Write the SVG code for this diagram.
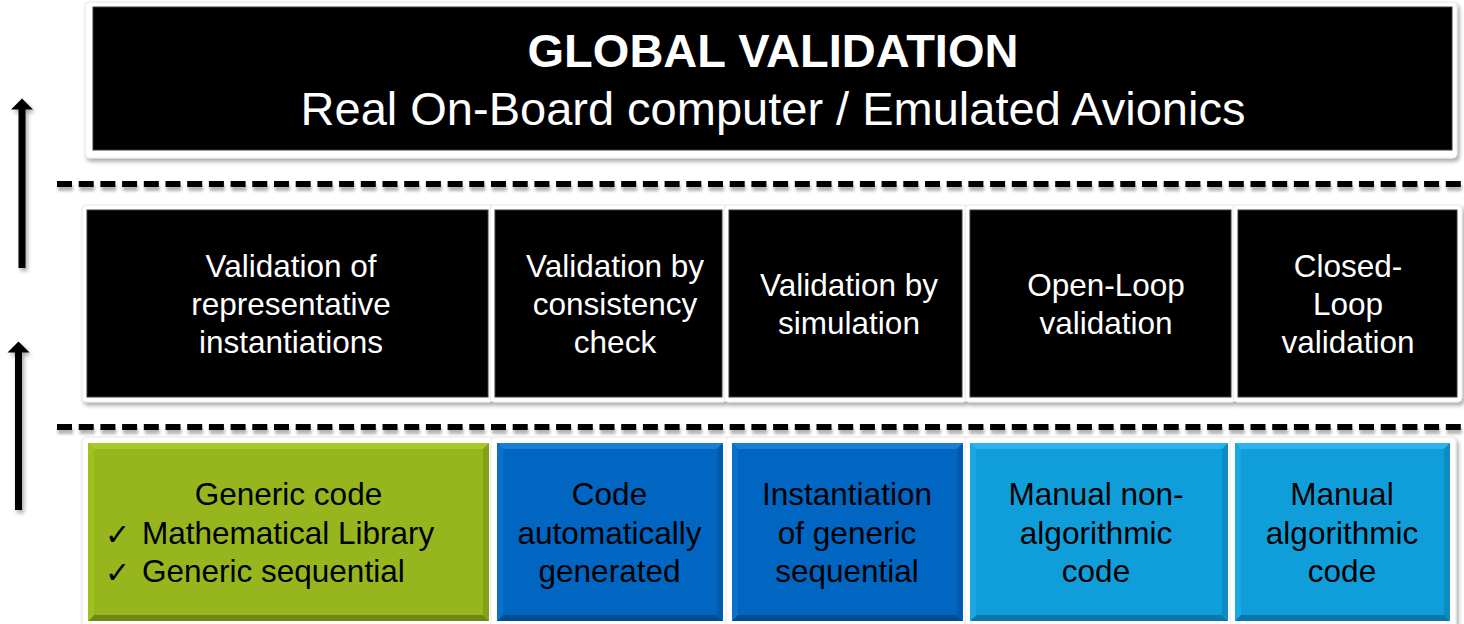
<svg xmlns="http://www.w3.org/2000/svg" width="1464" height="624" viewBox="0 0 1464 624">
<defs>
<filter id="sh" x="-5%" y="-10%" width="115%" height="130%">
<feGaussianBlur in="SourceAlpha" stdDeviation="2"/>
<feOffset dx="2" dy="3" result="b"/>
<feComponentTransfer><feFuncA type="linear" slope="0.35"/></feComponentTransfer>
<feMerge><feMergeNode/><feMergeNode in="SourceGraphic"/></feMerge>
</filter>
<filter id="shl" filterUnits="userSpaceOnUse" x="0" y="0" width="1464" height="624">
<feGaussianBlur in="SourceAlpha" stdDeviation="1.6"/>
<feOffset dx="1" dy="4" result="b"/>
<feComponentTransfer><feFuncA type="linear" slope="0.3"/></feComponentTransfer>
<feMerge><feMergeNode/><feMergeNode in="SourceGraphic"/></feMerge>
</filter>
</defs>
<style>
.frame{fill:#ffffff;stroke:#e6e6e6;stroke-width:1}
.blk{fill:#000000;stroke:#3a3a3a;stroke-width:1}
.tw{font-family:"Liberation Sans",Arial,sans-serif;fill:#ffffff;text-anchor:middle}
.tb{font-family:"Liberation Sans",Arial,sans-serif;fill:#000000;text-anchor:middle;font-size:31.5px}
.ck{font-family:"DejaVu Sans",sans-serif;fill:#000000;font-size:30px}
.m{font-size:31.5px}
.dash{stroke:#000000;stroke-width:6;stroke-dasharray:15 6.7;fill:none}
.g0{fill:#97B51D}.g1{fill:#A8CA27}.g2{fill:#6F8714}.g3{fill:#A0C022}.g4{fill:#84A018}
.d0{fill:#0066C1}.d1{fill:#1A7DD6}.d2{fill:#004C92}.d3{fill:#0B70CC}.d4{fill:#005AAE}
.l0{fill:#109EDA}.l1{fill:#2CB3EE}.l2{fill:#0A77A8}.l3{fill:#19A8E4}.l4{fill:#0D8CC3}
</style>
<rect width="1464" height="624" fill="#ffffff"/>

<g id="connectors">
<g filter="url(#shl)">
<line class="dash" x1="57" y1="184" x2="1464" y2="184"/>
<line class="dash" x1="57" y1="427" x2="1464" y2="427"/>
</g>
<g filter="url(#sh)">
<rect x="18.5" y="108" width="7" height="160" fill="#000"/>
<polygon points="11,109.5 22,98.5 33,109.5" fill="#000"/>
<rect x="15" y="351" width="7" height="159" fill="#000"/>
<polygon points="7.5,352.5 18.5,341.5 29.5,352.5" fill="#000"/>
</g>
</g>

<g id="global">
<rect class="frame" x="85" y="2" width="1372" height="156" rx="4" filter="url(#sh)"/>
<rect class="blk" x="93" y="7" width="1359" height="143"/>
<text class="tw" x="773" y="67" font-size="47" font-weight="bold">GLOBAL VALIDATION</text>
<text class="tw" x="773" y="125" font-size="47">Real On-Board computer / Emulated Avionics</text>
</g>

<g id="mid-frames" filter="url(#sh)">
<rect class="frame" x="82" y="205" width="411" height="197" rx="4"/>
<rect class="frame" x="490" y="205" width="237" height="197" rx="4"/>
<rect class="frame" x="724" y="205" width="243" height="197" rx="4"/>
<rect class="frame" x="965" y="205" width="271" height="197" rx="4"/>
<rect class="frame" x="1233" y="205" width="229" height="197" rx="4"/>
</g>

<g id="v1">
<rect class="blk" x="87" y="210" width="401" height="187"/>
<text class="tw m"><tspan x="291" y="277">Validation of</tspan><tspan x="291" y="315">representative</tspan><tspan x="291" y="353">instantiations</tspan></text>
</g>
<g id="v2">
<rect class="blk" x="495" y="210" width="227" height="187"/>
<text class="tw m"><tspan x="615" y="277">Validation by</tspan><tspan x="615" y="315">consistency</tspan><tspan x="615" y="353">check</tspan></text>
</g>
<g id="v3">
<rect class="blk" x="729" y="210" width="233" height="187"/>
<text class="tw m"><tspan x="849" y="296">Validation by</tspan><tspan x="849" y="334">simulation</tspan></text>
</g>
<g id="v4">
<rect class="blk" x="970" y="210" width="261" height="187"/>
<text class="tw m"><tspan x="1106" y="296">Open-Loop</tspan><tspan x="1106" y="334">validation</tspan></text>
</g>
<g id="v5">
<rect class="blk" x="1238" y="210" width="219" height="187"/>
<text class="tw m"><tspan x="1348" y="277">Closed-</tspan><tspan x="1348" y="315">Loop</tspan><tspan x="1348" y="353">validation</tspan></text>
</g>

<g id="bot-frames" filter="url(#sh)">
<rect class="frame" x="82" y="437" width="412" height="195" rx="4"/>
<rect class="frame" x="491" y="437" width="238" height="195" rx="4"/>
<rect class="frame" x="726" y="437" width="243" height="195" rx="4"/>
<rect class="frame" x="965" y="437" width="269" height="195" rx="4"/>
<rect class="frame" x="1230" y="437" width="226" height="195" rx="4"/>
</g>

<g id="c1">
<rect class="g0" x="88" y="443" width="401" height="178"/>
<polygon class="g1" points="88,443 489,443 483,449 94,449"/>
<polygon class="g2" points="88,621 489,621 483,615 94,615"/>
<polygon class="g3" points="88,443 94,449 94,615 88,621"/>
<polygon class="g4" points="489,443 483,449 483,615 489,621"/>
<text class="tb" x="288.5" y="505">Generic code</text>
<text class="ck" x="105" y="545">✓</text>
<text class="tb" x="142" y="544" style="text-anchor:start">Mathematical Library</text>
<text class="ck" x="105" y="583">✓</text>
<text class="tb" x="142" y="582" style="text-anchor:start">Generic sequential</text>
</g>
<g id="c2">
<rect class="d0" x="497" y="443" width="226" height="178"/>
<polygon class="d1" points="497,443 723,443 717,449 503,449"/>
<polygon class="d2" points="497,621 723,621 717,615 503,615"/>
<polygon class="d3" points="497,443 503,449 503,615 497,621"/>
<polygon class="d4" points="723,443 717,449 717,615 723,621"/>
<text class="tb"><tspan x="609.5" y="505">Code</tspan><tspan x="609.5" y="544">automatically</tspan><tspan x="609.5" y="582">generated</tspan></text>
</g>
<g id="c3">
<rect class="d0" x="732" y="443" width="231" height="178"/>
<polygon class="d1" points="732,443 963,443 957,449 738,449"/>
<polygon class="d2" points="732,621 963,621 957,615 738,615"/>
<polygon class="d3" points="732,443 738,449 738,615 732,621"/>
<polygon class="d4" points="963,443 957,449 957,615 963,621"/>
<text class="tb"><tspan x="847" y="505">Instantiation</tspan><tspan x="847" y="544">of generic</tspan><tspan x="847" y="582">sequential</tspan></text>
</g>
<g id="c4">
<rect class="l0" x="970" y="443" width="258" height="178"/>
<polygon class="l1" points="970,443 1228,443 1222,449 976,449"/>
<polygon class="l2" points="970,621 1228,621 1222,615 976,615"/>
<polygon class="l3" points="970,443 976,449 976,615 970,621"/>
<polygon class="l4" points="1228,443 1222,449 1222,615 1228,621"/>
<text class="tb"><tspan x="1096" y="505">Manual non-</tspan><tspan x="1096" y="544">algorithmic</tspan><tspan x="1096" y="582">code</tspan></text>
</g>
<g id="c5">
<rect class="l0" x="1235" y="443" width="215" height="178"/>
<polygon class="l1" points="1235,443 1450,443 1444,449 1241,449"/>
<polygon class="l2" points="1235,621 1450,621 1444,615 1241,615"/>
<polygon class="l3" points="1235,443 1241,449 1241,615 1235,621"/>
<polygon class="l4" points="1450,443 1444,449 1444,615 1450,621"/>
<text class="tb"><tspan x="1342" y="505">Manual</tspan><tspan x="1342" y="544">algorithmic</tspan><tspan x="1342" y="582">code</tspan></text>
</g>
</svg>
